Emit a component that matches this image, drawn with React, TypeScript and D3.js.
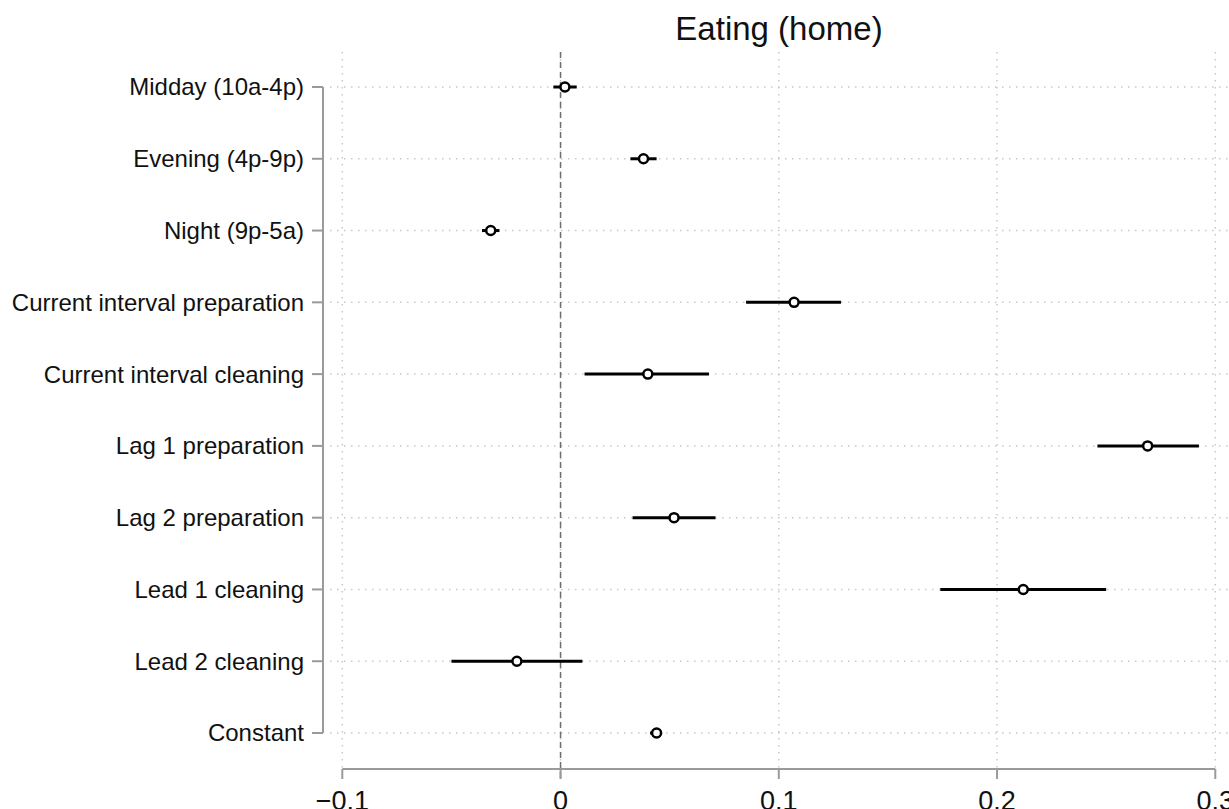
import React from "react";
import * as d3 from "d3";

const categories = [
  "Midday (10a-4p)",
  "Evening (4p-9p)",
  "Night (9p-5a)",
  "Current interval preparation",
  "Current interval cleaning",
  "Lag 1 preparation",
  "Lag 2 preparation",
  "Lead 1 cleaning",
  "Lead 2 cleaning",
  "Constant",
];
const estimates = [0.002, 0.038, -0.032, 0.107, 0.04, 0.269, 0.052, 0.212, -0.02, 0.044];
const lower = [-0.0033, 0.032, -0.036, 0.085, 0.011, 0.246, 0.033, 0.174, -0.05, 0.041];
const upper = [0.0074, 0.044, -0.028, 0.1285, 0.068, 0.2925, 0.071, 0.25, 0.01, 0.0465];
const xTicks = [-0.1, 0, 0.1, 0.2, 0.3];

const width = 1229;
const height = 809;

const App = () => {
  const x = d3.scaleLinear().domain([-0.1, 0.3]).range([342.3, 1215.3]);
  const y = d3
    .scalePoint<string>()
    .domain(categories)
    .range([87, 733]);

  const font = "'Liberation Sans', Arial, sans-serif";
  const axisColor = "#9a9a9a";
  const gridColor = "#c8c8c8";

  const rows = categories.map((c, i) => ({
    c,
    est: estimates[i],
    lo: lower[i],
    hi: upper[i],
  }));

  return (
    <svg
      width={width}
      height={height}
      style={{ position: "absolute", left: 0, top: 0, background: "#fff" }}
      fontFamily={font}
    >
      {/* title */}
      <text x={779} y={40} textAnchor="middle" fontSize={33} fill="#111">
        Eating (home)
      </text>

      {/* vertical grid */}
      {xTicks.map((t) => (
        <line
          key={"vg" + t}
          x1={x(t)}
          x2={x(t)}
          y1={52}
          y2={768}
          stroke={gridColor}
          strokeWidth={1.5}
          strokeDasharray="1.5 5.5"
        />
      ))}

      {/* horizontal grid */}
      {categories.map((c) => (
        <line
          key={"hg" + c}
          x1={330}
          x2={width}
          y1={y(c)}
          y2={y(c)}
          stroke={gridColor}
          strokeWidth={1.5}
          strokeDasharray="1.5 5.5"
        />
      ))}

      {/* zero reference line */}
      <line
        x1={x(0)}
        x2={x(0)}
        y1={52}
        y2={779}
        stroke="#6e6e6e"
        strokeWidth={1.5}
        strokeDasharray="6 4"
      />

      {/* y axis */}
      <line x1={323} x2={323} y1={y(categories[0])} y2={y(categories[categories.length - 1])} stroke={axisColor} strokeWidth={2} />
      {categories.map((c) => (
        <g key={"yt" + c}>
          <line x1={312} x2={323} y1={y(c)} y2={y(c)} stroke={axisColor} strokeWidth={2} />
          <text x={304} y={y(c)} dy="0.35em" textAnchor="end" fontSize={24} fill="#111">
            {c}
          </text>
        </g>
      ))}

      {/* x axis */}
      <line x1={x(-0.1)} x2={x(0.3)} y1={769} y2={769} stroke={axisColor} strokeWidth={2} />
      {xTicks.map((t) => (
        <g key={"xt" + t}>
          <line x1={x(t)} x2={x(t)} y1={769} y2={779} stroke={axisColor} strokeWidth={2} />
          <text x={x(t)} y={810} textAnchor="middle" fontSize={27} fill="#111">
            {t < 0 ? "\u2212" + Math.abs(t) : String(t)}
          </text>
        </g>
      ))}

      {/* confidence intervals */}
      {rows.map((r) => (
        <line
          key={"ci" + r.c}
          x1={x(r.lo)}
          x2={x(r.hi)}
          y1={y(r.c)}
          y2={y(r.c)}
          stroke="#000"
          strokeWidth={3}
        />
      ))}

      {/* point estimates */}
      {rows.map((r) => (
        <circle
          key={"pt" + r.c}
          cx={x(r.est)}
          cy={y(r.c)}
          r={4.5}
          fill="#fff"
          stroke="#000"
          strokeWidth={2.5}
        />
      ))}
    </svg>
  );
};

export default App;
